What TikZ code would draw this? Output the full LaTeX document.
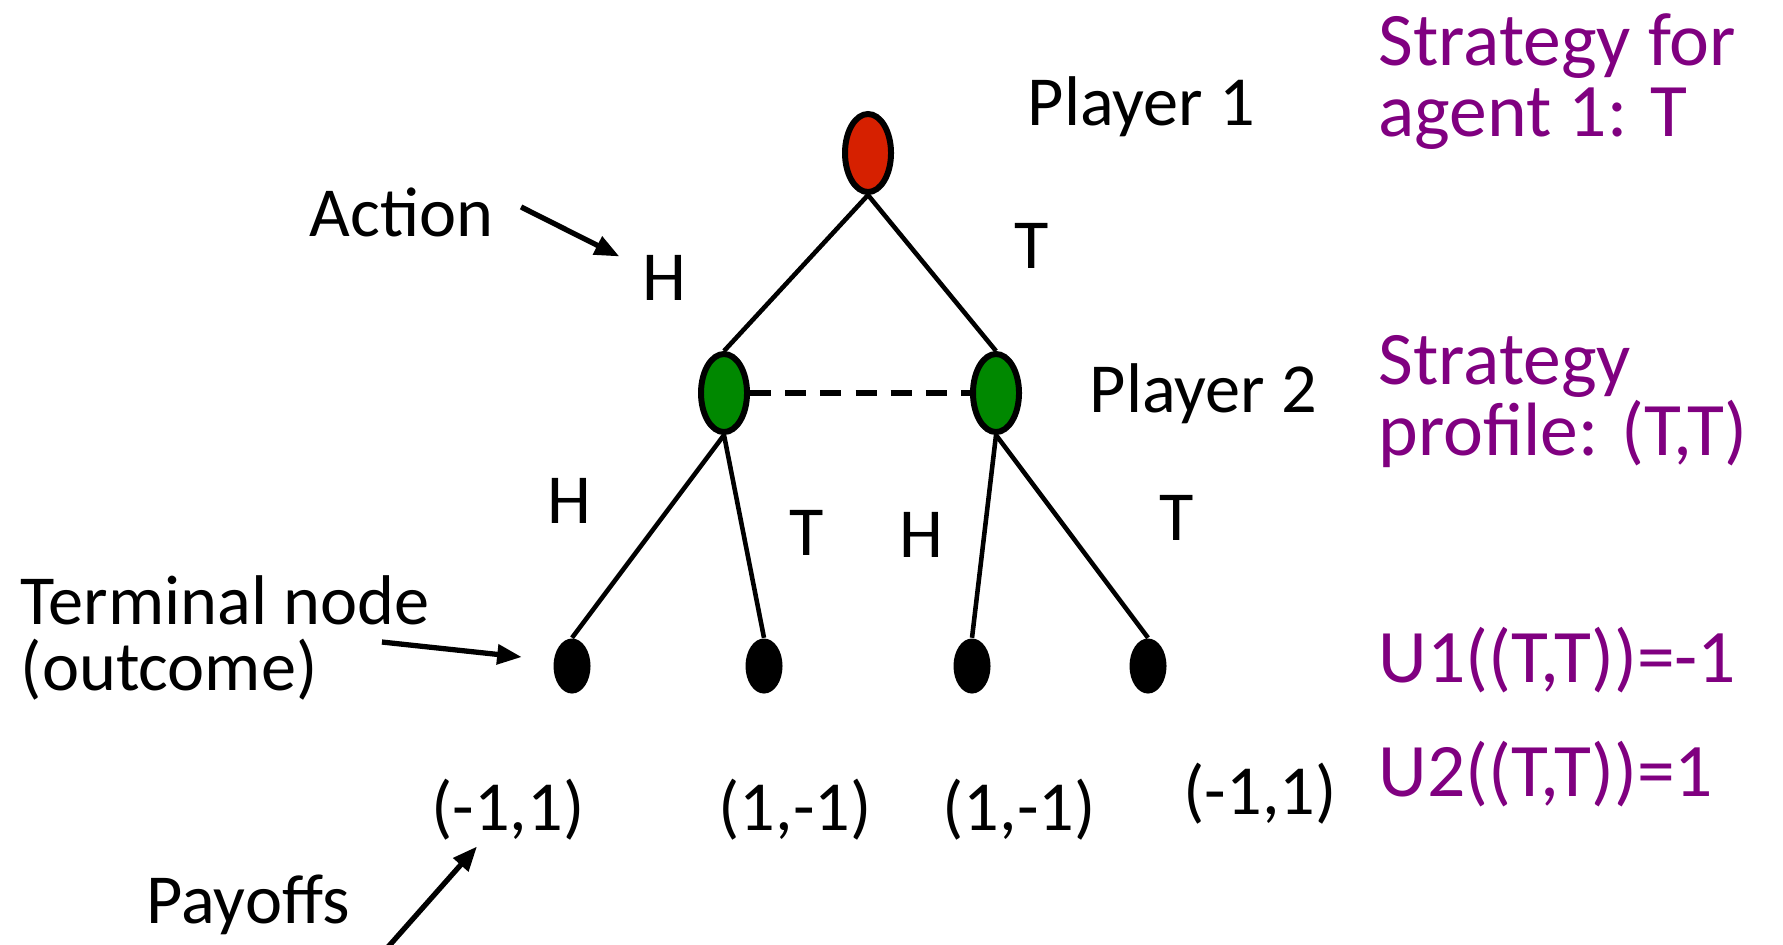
\documentclass[tikz,border=0pt]{standalone}
\usepackage{fontspec}
\setmainfont{Carlito}
\usetikzlibrary{arrows.meta,shapes.geometric}
\definecolor{p1red}{RGB}{214,32,0}
\definecolor{p2green}{RGB}{0,136,0}
\definecolor{notepurple}{RGB}{128,0,128}

\begin{document}
\begin{tikzpicture}[
  x=0.01cm, y=-0.01cm,
  decision/.style={draw, ellipse, line width=1.7pt, minimum width=0.46cm,
                   minimum height=0.78cm, inner sep=0pt},
  leaf/.style={ellipse, fill=black, minimum width=0.37cm,
               minimum height=0.55cm, inner sep=0pt},
  edge/.style={line width=1.3pt},
  lbl/.style={inner sep=0pt, font=\fontsize{20}{18.8}\selectfont},
  note/.style={inner sep=0pt, text=notepurple, align=left,
               font=\fontsize{21.5}{20.2}\selectfont},
  arr/.style={-{Triangle[length=7pt,width=5.5pt]}, line width=1.5pt}
]
\useasboundingbox (0,0) rectangle (1783,944);

% game tree
\node[decision, fill=p1red]   (root)  at (868,153) {};
\node[decision, fill=p2green] (left)  at (724,393) {};
\node[decision, fill=p2green] (right) at (996,393) {};
\node[leaf] (hh) at (572,666) {};
\node[leaf] (ht) at (764,666) {};
\node[leaf] (th) at (972,666) {};
\node[leaf] (tt) at (1148,666) {};

\draw[edge] (root.south) -- (left.north);
\draw[edge] (root.south) -- (right.north);
\draw[edge] (left.south) -- (hh.north);
\draw[edge] (left.south) -- (ht.north);
\draw[edge] (right.south) -- (th.north);
\draw[edge] (right.south) -- (tt.north);
\draw[line width=1.7pt, dash pattern=on 6pt off 4pt] (left) -- (right);

% players and actions
\node[lbl, anchor=base west] (pl1) at (1027,125) {Player 1};
\node[lbl, anchor=base west] (pl2) at (1089,412) {Player 2};
\node[lbl, anchor=base] (aH)  at (664,300)  {H};
\node[lbl, anchor=base] (aT)  at (1032,268) {T};
\node[lbl, anchor=base] (bH1) at (569,523)  {H};
\node[lbl, anchor=base] (bT1) at (807,555)  {T};
\node[lbl, anchor=base] (bH2) at (921,557)  {H};
\node[lbl, anchor=base] (bT2) at (1177,540) {T};

% payoffs
\node[lbl, anchor=base] (u1) at (508,830)  {(-1,1)};
\node[lbl, anchor=base] (u2) at (795,830)  {(1,-1)};
\node[lbl, anchor=base] (u3) at (1019,830) {(1,-1)};
\node[lbl, anchor=base] (u4) at (1260,814) {(-1,1)};

% annotations
\node[lbl, anchor=base west] (action) at (309,236) {Action};
\node[lbl, anchor=west, align=left] (term) at (20,638) {Terminal node\\(outcome)};
\node[lbl, anchor=base west] (payoffs) at (146,923) {Payoffs};
\draw[arr] ([shift={(27,-5)}]action.east) -- ([shift={(-22,-21)}]aH.west);
\draw[arr] ([shift={(-48,4)}]term.east) -- ([shift={(-31,-9)}]hh.west);
\draw[arr] ([shift={(35,27)}]payoffs.base east) -- ([shift={(-31,6)}]u1.south);

\node[note, anchor=west] (stratA) at (1378,82) {Strategy for\\agent 1: T};
\node[note, anchor=west] (stratP) at (1378,402) {Strategy\\profile: (T,T)};
\node[note, anchor=base west] (util1) at (1378,682) {U1((T,T))=-1};
\node[note, anchor=base west] (util2) at (1378,796) {U2((T,T))=1};
\end{tikzpicture}
\end{document}
